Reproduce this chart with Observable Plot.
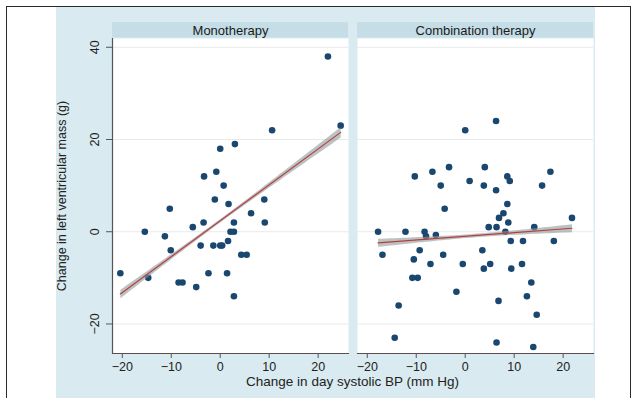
<!DOCTYPE html>
<html>
<head>
<meta charset="utf-8">
<script src="https://cdn.jsdelivr.net/npm/d3@7"></script>
<script src="https://cdn.jsdelivr.net/npm/@observablehq/plot@0.6"></script>
<style>
  html, body { margin: 0; padding: 0; background: #ffffff; overflow: hidden; }
  #wrap { position: relative; width: 639px; height: 398px; overflow: hidden; font-family: "Liberation Sans", Arial, sans-serif; }
  #border { position: absolute; left: 6px; top: 6px; width: 625px; height: 392px; border: 1.5px solid #2a2a2a; border-bottom: none; box-sizing: border-box; }
  #bg { position: absolute; left: 56px; top: 7px; width: 539px; height: 391px; background: #d9ebf0; }
  #chart { position: absolute; left: 0; top: 0; }
  #xtitle { position: absolute; left: 111px; width: 483px; top: 374px; text-align: center; font-size: 13.5px; color: #222; }
</style>
</head>
<body>
<div id="wrap">
  <div id="border"></div>
  <div id="bg"></div>
  <div id="chart"></div>
  <div id="xtitle">Change in day systolic BP (mm Hg)</div>
</div>
<script>
// Panels
const panels = ["Monotherapy", "Combination therapy"];

// Monotherapy: change in day systolic BP (x) and change in LV mass (y)
const monoX = [10.6, 3.0, 0.0, -0.8, -3.3, 0.7, -1.1, 1.7, 9.0, -10.3, 6.3, -5.6, -3.4, 2.8, 9.1, -15.4, -11.3, 2.1, 2.8, -4.0, -1.4, 0.0, 0.4, 1.6, -10.1, 4.3, 5.4, -20.4, -2.4, 1.4, -14.7, -8.5, -7.7, -4.9, 2.8, 22.0, 24.6];
const monoY = [22, 19, 18, 13, 12, 10, 7, 6, 7, 5, 4, 1, 2, 2, 2, 0, -1, 0, 0, -3, -3, -3, -3, -2, -4, -5, -5, -9, -9, -9, -10, -11, -11, -12, -14, 38, 23];

// Combination therapy
const comboX = [6.3, 0.0, -10.3, -6.7, -3.3, -5.0, 0.9, 4.0, 3.8, 6.3, 8.6, 9.1, 17.4, 15.7, -4.2, 8.6, 7.8, 6.9, 8.8, 4.8, 6.4, 21.8, 14.1, -17.8, -12.2, -8.3, -8.0, -6.0, 8.2, 9.3, 11.8, 18.1, -16.9, -9.3, -10.5, -4.5, 3.5, -7.1, -0.5, 3.8, 5.1, 9.4, 11.6, -10.8, -9.7, 13.5, -1.8, 12.6, -13.6, 6.8, 14.6, -14.4, 6.4, 13.9];
const comboY = [24, 22, 12, 13, 14, 10, 11, 14, 10, 9, 12, 11, 13, 10, 5, 6, 4, 3, 2, 1, 1, 3, 1, 0, 0, 0, -1, -0.7, 0, -2, -2, -2, -5, -4, -6, -5, -4, -7, -7, -8, -7, -8, -7, -10, -10, -11, -13, -14, -16, -15, -18, -23, -24, -25];

// Tick labels
const xTicks = [-20, -10, 0, 10, 20];
const yTicks = [-20, 0, 20, 40];

const xDomain = [-22, 26.2];
const yDomain = [-26.4, 41.9];

const rows = [
  ...monoX.map((x, i) => ({panel: panels[0], x, y: monoY[i]})),
  ...comboX.map((x, i) => ({panel: panels[1], x, y: comboY[i]}))
];

const chart = Plot.plot({
  width: 639,
  height: 398,
  marginLeft: 111,
  marginRight: 45,
  marginTop: 38,
  marginBottom: 45,
  style: {background: "transparent", fontFamily: "'Liberation Sans', Arial, sans-serif", fontSize: "12.5px", color: "#222"},
  fx: {domain: panels, padding: 0.036, axis: null},
  x: {domain: xDomain},
  y: {domain: yDomain},
  marks: [
    Plot.frame({fill: "white", stroke: "none"}),
    Plot.rect(panels, {fx: d => d, x1: () => xDomain[0], x2: () => xDomain[1], y1: () => yDomain[1] + 0.1, y2: () => yDomain[1] + 3.45, fill: "#c4dde6"}),
    Plot.text(panels, {fx: d => d, x: () => (xDomain[0] + xDomain[1]) / 2, y: () => yDomain[1] + 1.75, text: d => d, fontSize: 13, fill: "#1a1a1a"}),
    Plot.ruleY(yTicks, {stroke: "#e9e9e9", strokeWidth: 1.2}),
    Plot.frame({anchor: "bottom", stroke: "#5a4f4f", strokeWidth: 1.2}),
    Plot.ruleX([panels[0]], {fx: d => d, x: () => xDomain[0], y1: () => yDomain[0], y2: () => yDomain[1], stroke: "#555", strokeWidth: 1.2}),
    Plot.dot(rows, {fx: "panel", x: "x", y: "y", r: 3.3, fill: "#1a476f", stroke: "none"}),
    Plot.linearRegressionY(rows, {fx: "panel", x: "x", y: "y", ci: 0.2, stroke: "#b5403b", strokeWidth: 1.2, fill: "#8f9a9c", fillOpacity: 0.6}),
    Plot.axisX({ticks: xTicks, tickSize: 5, tickPadding: 4, label: null, fontSize: 12.5, stroke: "#555"}),
    Plot.axisY({ticks: yTicks, tickSize: 6, tickPadding: 8, tickRotate: -90, label: "Change in left ventricular mass (g)", labelAnchor: "center", labelArrow: "none", labelOffset: 55, fontSize: 12.5, stroke: "#555"})
  ]
});
document.getElementById("chart").appendChild(chart);
</script>
</body>
</html>
